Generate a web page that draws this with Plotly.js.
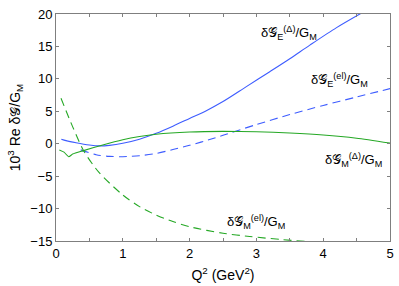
<!DOCTYPE html>
<html><head><meta charset="utf-8">
<script src="https://cdn.plot.ly/plotly-3.0.1.min.js"></script>
<style>body{margin:0;padding:0;background:#fff}#c{width:399px;height:286px}</style>
</head><body><div id="c"></div>
<script>
const eDeltaX = [0.08,0.15,0.3,0.5,0.65,0.8,1.0,1.25,1.5,1.75,2.0,2.25,2.5,2.85,3.2,3.5,3.8,4.2,4.6];
const eDeltaY = [0.7,0.48,0.15,-0.2,-0.34,-0.25,0.07,0.7,1.6,2.7,3.9,5.1,6.5,8.8,11.1,13.1,15.2,17.9,20.3];
const eElX = [0.37,0.6,0.8,1.0,1.25,1.5,1.75,2.0,2.35,2.5,3.0,3.5,4.0,4.5,5.0];
const eElY = [-0.95,-1.7,-1.95,-2.0,-1.85,-1.5,-0.9,-0.25,0.8,1.3,2.95,4.5,5.9,7.2,8.5];
const mDeltaX = [0.05,0.12,0.19,0.25,0.4,0.7,1.0,1.25,1.5,2.0,2.5,3.0,3.5,4.0,4.5,5.0];
const mDeltaY = [-0.95,-1.3,-2.0,-1.6,-1.1,-0.2,0.6,1.1,1.46,1.8,1.9,1.85,1.65,1.35,0.85,0.1];
const mElX = [0.075,0.25,0.42,0.65,1.0,1.25,1.5,1.75,2.0,2.5,2.9,3.4,3.8,4.2];
const mElY = [7.0,2.6,-1.2,-4.5,-7.9,-9.7,-11.0,-12.0,-12.8,-13.8,-14.3,-14.8,-15.1,-15.4];

const blue = '#3d5cff', green = '#25a825';
const traces = [
  {x:eDeltaX,y:eDeltaY,mode:'lines',line:{color:blue,width:1.1,shape:'spline',smoothing:0.8}},
  {x:eElX,y:eElY,mode:'lines',line:{color:blue,width:1.1,dash:'8px,5px',shape:'spline',smoothing:0.8}},
  {x:mDeltaX,y:mDeltaY,mode:'lines',line:{color:green,width:1.1,shape:'spline',smoothing:0.6}},
  {x:mElX,y:mElY,mode:'lines',line:{color:green,width:1.1,dash:'8px,5px',shape:'spline',smoothing:0.8}}
];
const fam = 'Liberation Sans, Arial, sans-serif';
const F = {family:fam,size:13,color:'#000'};
const ax = {showgrid:false,zeroline:false,showline:true,linecolor:'#7f7f7f',linewidth:1,mirror:'ticks',
  ticks:'inside',ticklen:3,tickcolor:'#7f7f7f',tickfont:F};
const ann = (x,y,t)=>({x:x,y:y,text:t,showarrow:false,font:{family:fam,size:13,color:'#000'},xanchor:'center',yanchor:'middle'});
const layout = {
  width:399,height:286,margin:{l:56,r:9,t:14,b:45},
  paper_bgcolor:'#fff',plot_bgcolor:'#fff',showlegend:false,
  xaxis:Object.assign({},ax,{range:[0,5],dtick:1,tick0:0,
    minor:{dtick:0.5,ticklen:3,tickcolor:'#7f7f7f',ticks:'inside'},
    title:{text:'Q<sup>2</sup> (GeV<sup>2</sup>)',font:{family:fam,size:14,color:'#000'},standoff:10}}),
  yaxis:Object.assign({},ax,{range:[-15,20],dtick:5,tick0:0,
    title:{text:'10<sup>3</sup> Re δ𝒢/G<sub>M</sub>',font:{family:fam,size:14,color:'#000'},standoff:6}}),
  annotations:[
    ann(3.49,17.1,'δ𝒢<sub>E</sub><sup>(Δ)</sup>/G<sub>M</sub>'),
    ann(4.25,9.8,'δ𝒢<sub>E</sub><sup>(el)</sup>/G<sub>M</sub>'),
    ann(4.45,-2.5,'δ𝒢<sub>M</sub><sup>(Δ)</sup>/G<sub>M</sub>'),
    ann(3.0,-12.0,'δ𝒢<sub>M</sub><sup>(el)</sup>/G<sub>M</sub>')
  ]
};
Plotly.newPlot('c',traces,layout,{staticPlot:true,displayModeBar:false});
</script></body></html>
